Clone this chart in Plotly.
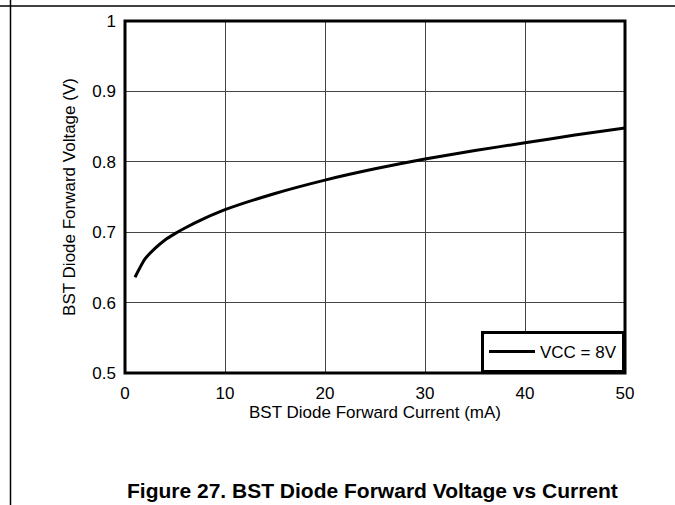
import plotly.graph_objects as go

current_ma = [1, 2, 3, 4, 5, 6, 8, 10, 15, 20, 25, 30, 35, 40, 45, 50]
voltage_v = [0.636, 0.662, 0.677, 0.689, 0.698, 0.706, 0.720, 0.732, 0.755, 0.774,
             0.790, 0.804, 0.816, 0.827, 0.838, 0.848]
series_name = "VCC = 8V"
x_ticks = [0, 10, 20, 30, 40, 50]
y_ticks = [0.5, 0.6, 0.7, 0.8, 0.9, 1.0]
y_tick_text = ["0.5", "0.6", "0.7", "0.8", "0.9", "1"]

FONT = "Liberation Sans, Arial, sans-serif"

fig = go.Figure()
fig.add_trace(go.Scatter(x=current_ma, y=voltage_v, mode="lines", name=series_name,
                         line=dict(color="black", width=3, shape="spline", smoothing=0.6)))

W, H = 675, 505
L, R, T, B = 125, 625, 21, 373

def px(xp):
    return (xp - L) / (R - L)

def py(yp):
    return (B - yp) / (B - T)

fig.update_layout(
    width=W, height=H,
    margin=dict(l=L, r=W - R, t=T, b=H - B, pad=0),
    paper_bgcolor="white", plot_bgcolor="white",
    font=dict(family=FONT, size=17, color="black"),
    showlegend=True,
    legend=dict(x=1, y=0, xanchor="right", yanchor="bottom",
                bgcolor="white", bordercolor="black", borderwidth=3,
                font=dict(size=17), itemwidth=46),
    xaxis=dict(range=[0, 50], tickvals=x_ticks, showgrid=True, gridcolor="#444",
               gridwidth=1, zeroline=False, showline=False, ticks="",
               ticklabelstandoff=8,
               title=dict(text="BST Diode Forward Current (mA)", standoff=2,
                          font=dict(size=17)),
               tickfont=dict(size=17), fixedrange=True),
    yaxis=dict(range=[0.5, 1.0], tickvals=y_ticks, ticktext=y_tick_text,
               showgrid=True, gridcolor="#444", gridwidth=1, zeroline=False,
               showline=False, ticks="", ticklabelstandoff=8,
               title=dict(text="BST Diode Forward Voltage (V)", standoff=12,
                          font=dict(size=17)),
               tickfont=dict(size=17), fixedrange=True),
    shapes=[
        dict(type="rect", xref="paper", yref="paper", x0=0, y0=0, x1=1, y1=1,
             line=dict(color="black", width=3), layer="above"),
        dict(type="line", xref="paper", yref="paper", x0=px(0), x1=px(675),
             y0=py(6), y1=py(6), line=dict(color="black", width=1.5)),
        dict(type="line", xref="paper", yref="paper", x0=px(10.5), x1=px(10.5),
             y0=py(0), y1=py(505), line=dict(color="black", width=1.5)),
    ],
    annotations=[
        dict(text="<b>Figure 27. BST Diode Forward Voltage vs Current</b>",
             xref="paper", yref="paper", x=px(372), y=py(490),
             xanchor="center", yanchor="middle", showarrow=False, borderpad=0,
             font=dict(family=FONT, size=21, color="black")),
    ],
)

fig.write_html(
    "out.html",
    config={"displayModeBar": False},
    post_script="document.body.style.margin='0';document.body.style.padding='0';"
                "document.body.style.overflow='hidden';",
)
